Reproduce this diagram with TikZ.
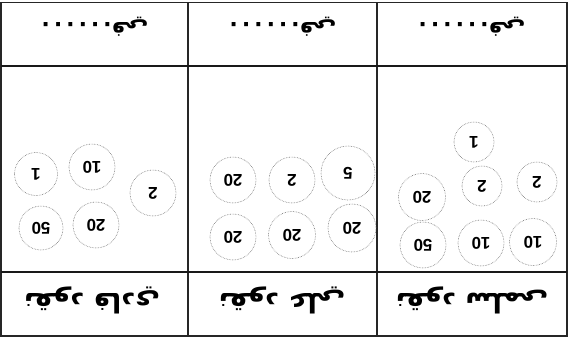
\documentclass[tikz,border=0pt]{standalone}
\usepackage{fontspec}
\setmainfont{Liberation Sans}
\newfontfamily\arabicfont[Script=Arabic]{DejaVu Sans}
\TeXXeTstate=1
\tikzset{
  frame/.style={draw=black!85, line width=1.3pt},
  rule/.style={draw=black!90, line width=1.8pt},
  coin/.style={circle, draw=black!55, densely dotted, line width=0.6pt, minimum size=#1, inner sep=0pt,
    font=\bfseries\fontsize{17}{17}\selectfont, rotate=180},
  coin/.default=46pt,
  head/.style={font=\arabicfont\bfseries\fontsize{22}{22}\selectfont, rotate=180, inner sep=0pt},
  label/.style={font=\arabicfont\bfseries\fontsize{27}{27}\selectfont, rotate=180, inner sep=0pt}
}
\newcommand{\hdots}{\beginR .\kern4pt.\kern4pt.\kern4pt.\kern4pt.\kern4pt.في\endR}
\begin{document}
\begin{tikzpicture}[x=1pt,y=-1pt]
\useasboundingbox[fill=white] (0,0) rectangle (569,338);
% table
\draw[frame] (1,2.5) rectangle (567,336);
\draw[frame] (188,2.5) -- (188,336);
\draw[frame] (377,2.5) -- (377,336);
\draw[rule] (1,66) -- (567,66);
\draw[rule] (1,272) -- (567,272);
% header texts
\node[head] (h1) at (95,27) {\hdots};
\node[head] (h2) at (283,27) {\hdots};
\node[head] (h3) at (472,27) {\hdots};
% bottom labels
\node[label] (l1) at (92,300) {\beginR نقود فادي\endR};
\node[label] (l2) at (282,300) {\beginR نقود علي\endR};
\node[label] (l3) at (472,300) {\beginR نقود سلمى\endR};
% coins, cell 1
\node[coin=43pt] (a1) at (36,174) {1};
\node[coin] (a2) at (92,167) {10};
\node[coin] (a3) at (153,193) {2};
\node[coin=44pt] (a4) at (41,228) {50};
\node[coin] (a5) at (96,225) {20};
% coins, cell 2
\node[coin] (b1) at (233,180) {20};
\node[coin] (b2) at (292,180) {2};
\node[coin=54pt] (b3) at (348,173) {5};
\node[coin] (b4) at (233,237) {20};
\node[coin=47pt] (b5) at (292,235) {20};
\node[coin=48pt] (b6) at (352,228) {20};
% coins, cell 3
\node[coin=40pt] (c1) at (474,142) {1};
\node[coin=47pt] (c2) at (422,197) {20};
\node[coin=40pt] (c3) at (482,186) {2};
\node[coin=40pt] (c4) at (537,182) {2};
\node[coin] (c5) at (423,245) {50};
\node[coin] (c6) at (481,243) {10};
\node[coin=47pt] (c7) at (533,242) {10};
\end{tikzpicture}
\end{document}
